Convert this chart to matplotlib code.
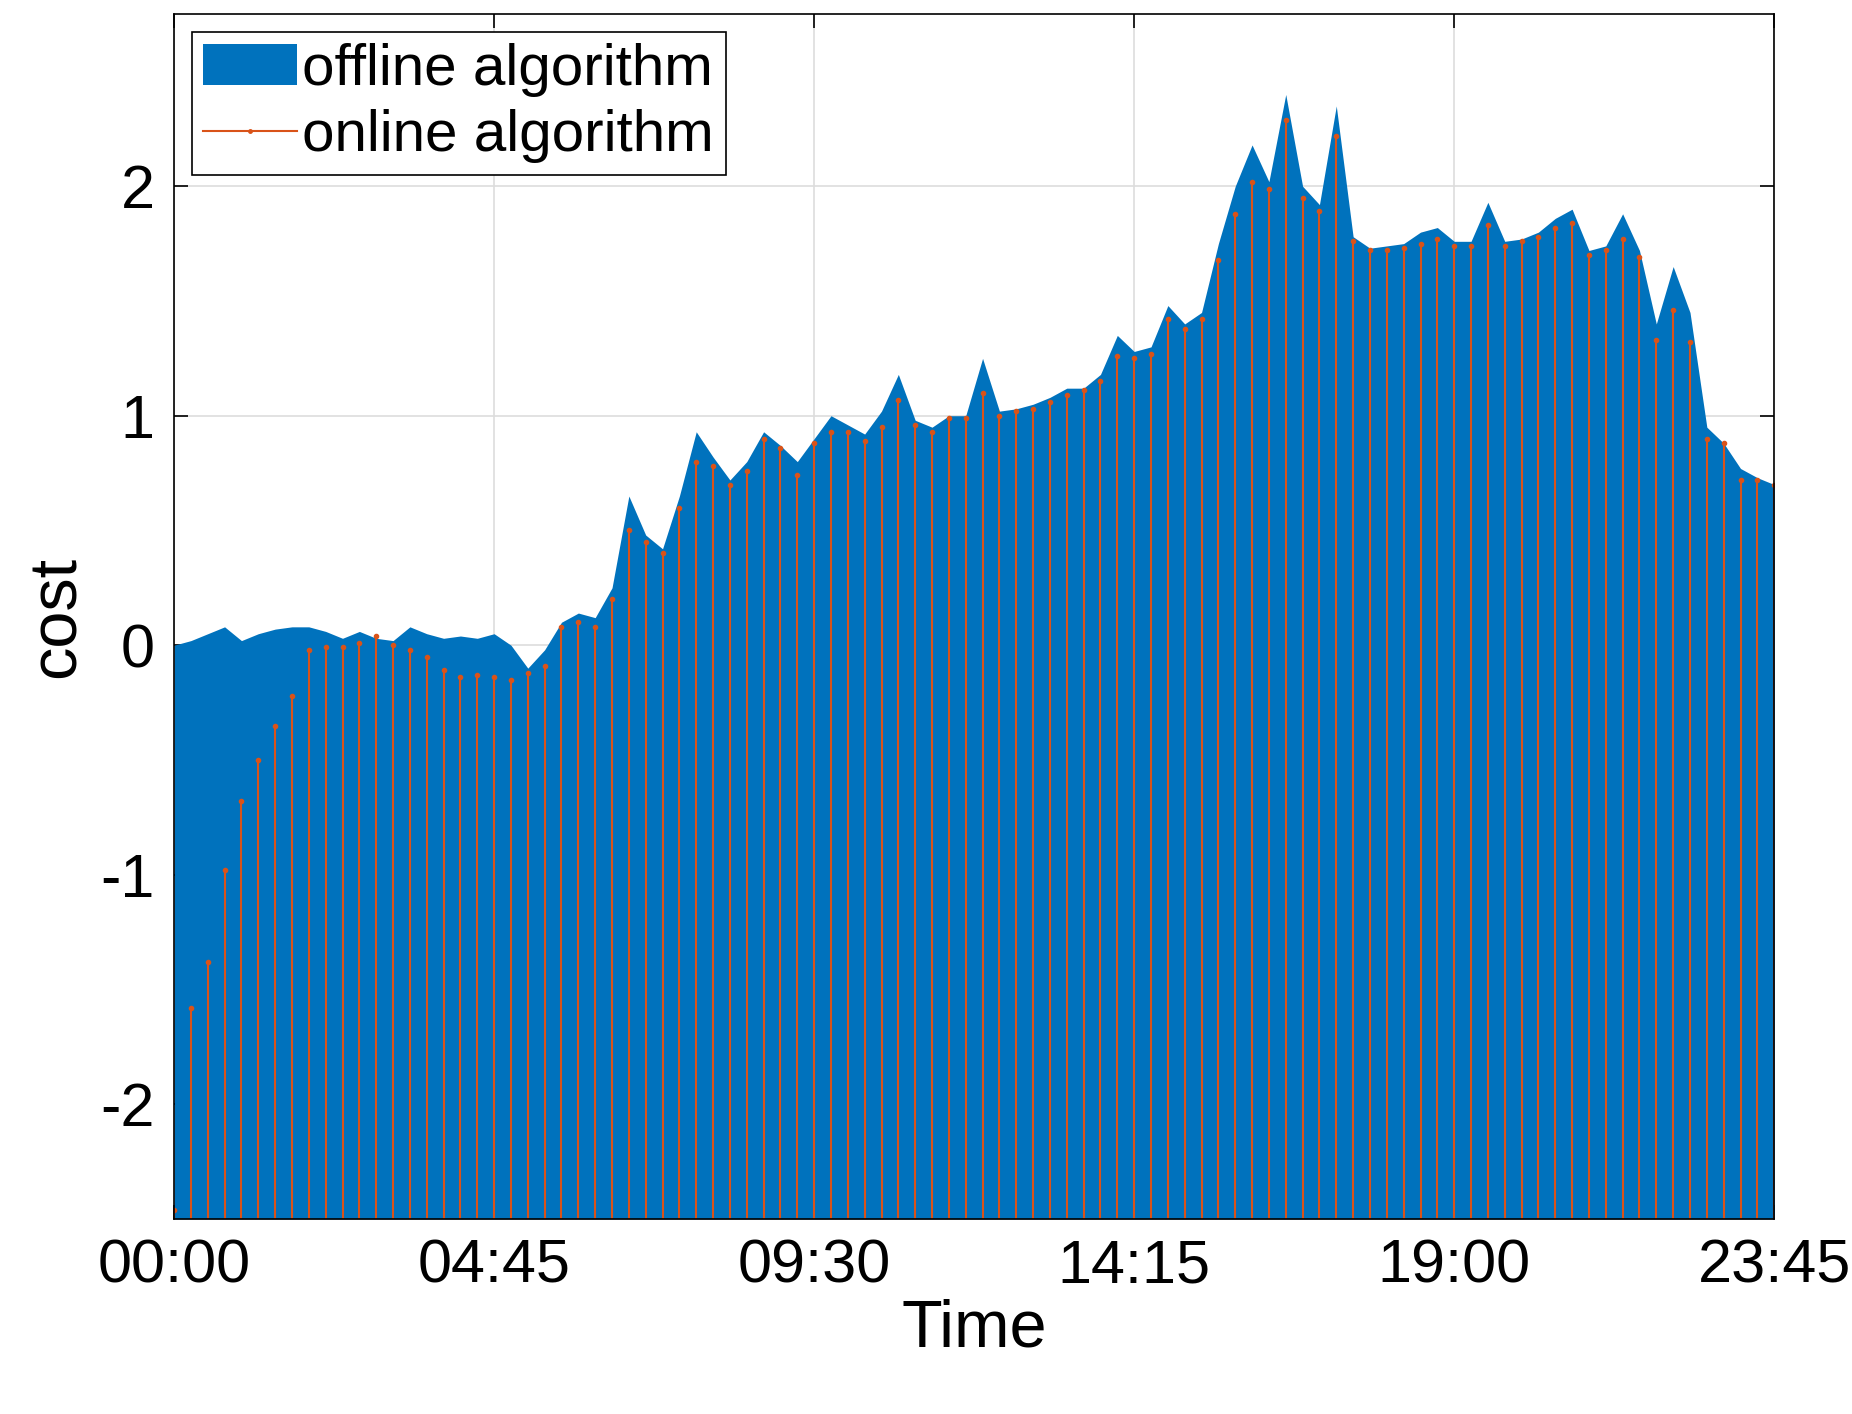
import numpy as np
import matplotlib.pyplot as plt
from matplotlib.lines import Line2D
from matplotlib.patches import Patch

plt.rcParams['font.family'] = ['Liberation Sans', 'DejaVu Sans']
plt.rcParams['axes.unicode_minus'] = False

# online cost, one value per 15 minutes (96 slots)
online = [-2.46, -1.58, -1.38, -0.98, -0.68, -0.50, -0.35, -0.22, -0.02, -0.01,
          -0.01, 0.01, 0.04, 0.00, -0.02, -0.05, -0.11, -0.14, -0.13, -0.14,
          -0.15, -0.12, -0.09, 0.08, 0.10, 0.08, 0.20, 0.50, 0.45, 0.40,
          0.60, 0.80, 0.78, 0.70, 0.76, 0.90, 0.86, 0.74, 0.88, 0.93,
          0.93, 0.89, 0.95, 1.07, 0.96, 0.93, 0.99, 0.99, 1.10, 1.00,
          1.02, 1.03, 1.06, 1.09, 1.11, 1.15, 1.26, 1.25, 1.27, 1.42,
          1.38, 1.42, 1.68, 1.88, 2.02, 1.99, 2.29, 1.95, 1.89, 2.22,
          1.76, 1.72, 1.72, 1.73, 1.75, 1.77, 1.74, 1.74, 1.83, 1.74,
          1.76, 1.78, 1.82, 1.84, 1.70, 1.72, 1.77, 1.69, 1.33, 1.46,
          1.32, 0.90, 0.88, 0.72, 0.72, 0.70]

# offline cost, same slots
offline = [0.00, 0.02, 0.05, 0.08, 0.02, 0.05, 0.07, 0.08, 0.08, 0.06,
           0.03, 0.06, 0.03, 0.02, 0.08, 0.05, 0.03, 0.04, 0.03, 0.05,
           0.00, -0.10, -0.02, 0.10, 0.14, 0.12, 0.25, 0.65, 0.48, 0.42,
           0.65, 0.93, 0.82, 0.72, 0.80, 0.93, 0.87, 0.80, 0.90, 1.00,
           0.96, 0.92, 1.02, 1.18, 0.98, 0.95, 1.00, 1.00, 1.25, 1.02,
           1.03, 1.05, 1.08, 1.12, 1.12, 1.18, 1.35, 1.28, 1.30, 1.48,
           1.40, 1.45, 1.75, 2.00, 2.18, 2.02, 2.40, 2.00, 1.92, 2.35,
           1.78, 1.73, 1.74, 1.75, 1.80, 1.82, 1.76, 1.76, 1.93, 1.76,
           1.77, 1.80, 1.86, 1.90, 1.72, 1.74, 1.88, 1.72, 1.40, 1.65,
           1.45, 0.95, 0.88, 0.77, 0.73, 0.70]

tick_idx = [0, 19, 38, 57, 76, 95]
tick_lbl = ['00:00', '04:45', '09:30', '14:15', '19:00', '23:45']

blue = '#0072BD'
orange = '#D95319'
x = np.arange(len(online))

fig = plt.figure(figsize=[18.52, 14.14], dpi=100)
ax = fig.add_axes((0.094, 0.138, 0.864, 0.852))

ax.grid(True, color='#dddddd', linewidth=1.2, zorder=0)
ax.set_axisbelow(True)
ax.fill_between(x, -2.5, offline, color=blue, linewidth=0, zorder=2)
ml, sl, bl = ax.stem(x, online, bottom=-2.5, basefmt=' ')
plt.setp(sl, color=orange, linewidth=1.5, zorder=3)
plt.setp(ml, color=orange, marker='.', markersize=6, zorder=4)

ax.set_xlim(0, 95)
ax.set_ylim(-2.5, 2.75)
ax.set_xticks(tick_idx)
ax.set_xticklabels(tick_lbl)
ax.set_yticks([-2, -1, 0, 1, 2])
ax.tick_params(direction='in', top=True, right=True, labelsize=44, length=10,
               width=1.2, pad=14)
for s in ax.spines.values():
  s.set_linewidth(1.2)
  s.set_zorder(5)
ax.set_xlabel('Time', fontsize=48, labelpad=2)
ax.set_ylabel('cost', fontsize=48, labelpad=8)

handles = [Patch(facecolor=blue, edgecolor='none'),
           Line2D([0], [0], color=orange, marker='.', markersize=5, linewidth=1.5)]
leg = ax.legend(handles, ['offline algorithm', 'online algorithm'], loc='upper left',
                fontsize=42, fancybox=False, edgecolor='black', framealpha=1,
                handlelength=1.6, handletextpad=0.1, borderaxespad=0.3,
                labelspacing=0.2, borderpad=0.2)
leg.get_frame().set_linewidth(1.2)
leg.set_zorder(6)

plt.savefig('out.png', dpi=100)
plt.close(fig)
